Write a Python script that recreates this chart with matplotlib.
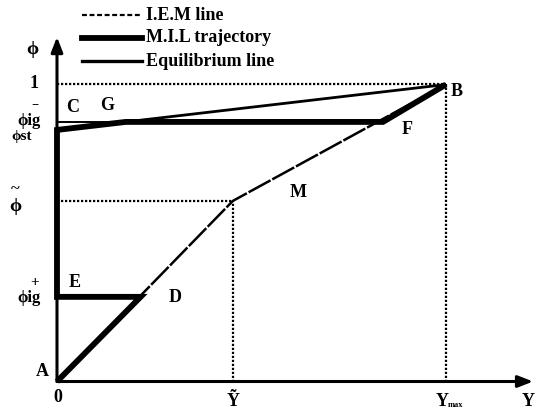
import matplotlib
matplotlib.use("Agg")
import matplotlib.pyplot as plt
import numpy as np

# ---- data (normalised: Ymax = 1, phi = 1) ----
Y_TILDE = 0.452
Y_MAX = 1.0
PHI_ONE = 1.0
PHI_TILDE = 0.608
PHI_ST = 0.847
PHI_IG_MINUS = 0.874
PHI_IG_PLUS = 0.285
D_Y = 0.215
F_Y = 0.838

# I.E.M line : A -> M -> B
iem_x = [0.0, Y_TILDE, Y_MAX]
iem_phi = [0.0, PHI_TILDE, PHI_ONE]
# Equilibrium line : phi_st on axis -> B
eq_x = [0.0, Y_MAX]
eq_phi = [PHI_ST, PHI_ONE]
G_Y = (PHI_IG_MINUS - PHI_ST) / (PHI_ONE - PHI_ST) * Y_MAX
# M.I.L trajectory : A -> D -> E -> (phi_st) -> G -> F -> B
mil_x = [0.0, D_Y, 0.0, 0.0, G_Y, F_Y, Y_MAX]
mil_phi = [0.0, PHI_IG_PLUS, PHI_IG_PLUS, PHI_ST, PHI_IG_MINUS, PHI_IG_MINUS, PHI_ONE]

W, H = 536, 411
fig = plt.figure(figsize=(W / 100, H / 100), dpi=100)
ax = fig.add_axes([0, 0, 1, 1])
ax.set_xlim(-0.1465, 1.2314)
ax.set_ylim(-0.0993, 1.2845)
ax.axis("off")

FAM = ["Liberation Serif", "DejaVu Serif"]

def ftext(px, py, s, size=13, ha="center", va="center", weight="bold"):
    fig.text(px / W, 1 - py / H, s, fontsize=size, ha=ha, va=va,
             family=FAM, weight=weight, color="black")

# axes arrows
arrow = dict(arrowstyle="-|>,head_length=0.9,head_width=0.35", lw=2.2,
             color="black", shrinkA=0, shrinkB=0)
ax.annotate("", xy=(1.224, 0), xytext=(0, 0), arrowprops=arrow)
ax.annotate("", xy=(0, 1.16), xytext=(0, 0), arrowprops=arrow)

# dotted guide lines
dot = dict(color="black", lw=1.6, linestyle=(0, (1, 0.8)))
ax.plot([0, Y_MAX], [PHI_ONE, PHI_ONE], **dot)
ax.plot([Y_MAX, Y_MAX], [0, PHI_ONE], **dot)
ax.plot([0, Y_TILDE], [PHI_TILDE, PHI_TILDE], **dot)
ax.plot([Y_TILDE, Y_TILDE], [0, PHI_TILDE], **dot)

# thin line at phi_ig- from axis to G
ax.plot([0, G_Y], [PHI_IG_MINUS, PHI_IG_MINUS], color="black", lw=1.4)

# equilibrium line
ax.plot(eq_x, eq_phi, color="black", lw=2.0, solid_capstyle="butt")
# I.E.M line
ax.plot(iem_x, iem_phi, color="black", lw=1.8, linestyle=(0, (10, 0.8)))
# M.I.L trajectory
ax.plot(mil_x, mil_phi, color="black", lw=4.2, solid_joinstyle="miter",
        solid_capstyle="butt")

# legend (manual)
lx0, lx1 = 82 / W, 142 / W
for py, ls, lw in [(15, (0, (2.2, 1.2)), 1.6), (38, "-", 4.2), (61, "-", 2.4)]:
    fig.add_artist(plt.Line2D([lx0, lx1], [1 - py / H, 1 - py / H], color="black",
                              lw=lw, linestyle=ls, transform=fig.transFigure))
ftext(146, 15, "I.E.M line", ha="left")
ftext(146, 38, "M.I.L trajectory", ha="left")
ftext(146, 61, "Equilibrium line", ha="left")

# axis labels
ftext(32, 50, "ϕ", size=14)
ftext(34, 83, "1")
ftext(29, 121, "ϕig", size=12)
ftext(35, 106, "−", size=9)
ftext(22, 136, "ϕst", size=11)
ftext(15, 206, "ϕ", size=14)
ftext(15, 189, "~", size=12)
ftext(29, 298, "ϕig", size=12)
ftext(35, 282, "+", size=11)
ftext(42, 371, "A")
ftext(58, 397, "0")
ftext(233, 401, "Ỹ")
ftext(442, 401, "Y", ha="center")
ftext(456, 405, "max", size=6)
ftext(528, 401, "Y")

# point labels
ftext(73, 107, "C")
ftext(107, 106, "G")
ftext(457, 92, "B")
ftext(407, 129, "F")
ftext(298, 192, "M")
ftext(175, 297, "D")
ftext(75, 282, "E")

fig.savefig("out.png", dpi=100)
